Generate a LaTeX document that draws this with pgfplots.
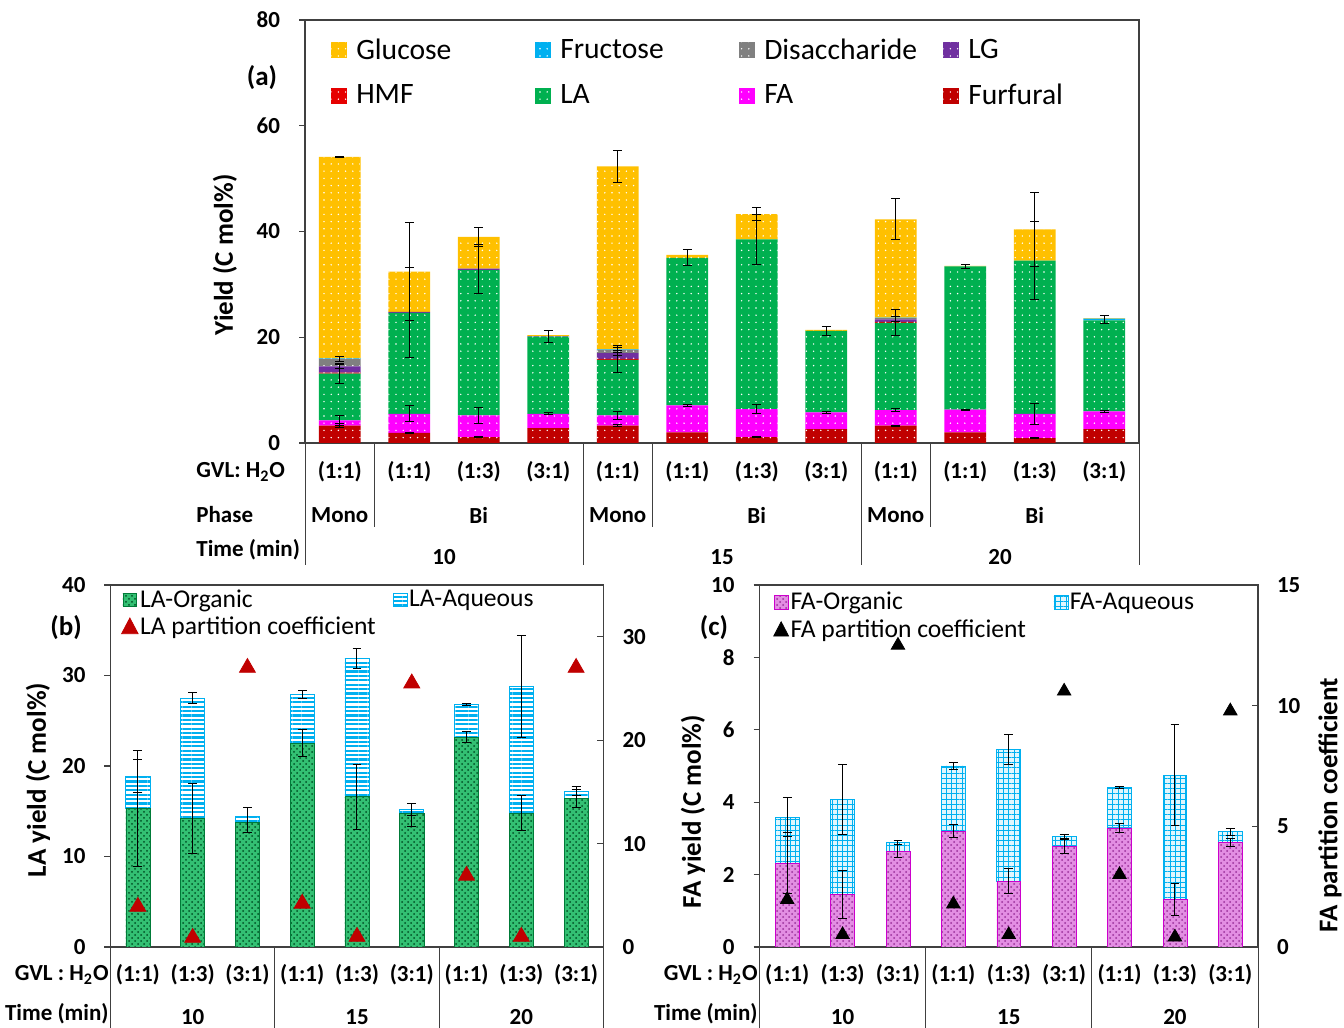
\documentclass[border=0pt]{standalone}
\usepackage{fontspec}
\setmainfont{Carlito}
\usepackage{pgfplots}
\pgfplotsset{compat=1.18}
\usetikzlibrary{patterns,patterns.meta}

\definecolor{cGlu}{HTML}{FFC000}
\definecolor{cFru}{HTML}{00B0F0}
\definecolor{cDis}{HTML}{808080}
\definecolor{cLG}{HTML}{7030A0}
\definecolor{cHMF}{HTML}{E60000}
\definecolor{cLA}{HTML}{00B050}
\definecolor{cFA}{HTML}{FF00FF}
\definecolor{cFur}{HTML}{C00000}
\definecolor{cAq}{HTML}{00B0F0}
\definecolor{cTri}{HTML}{C00000}
\definecolor{cFAo}{HTML}{E38EE3}
\definecolor{cFAd}{HTML}{9A2F9A}
\definecolor{axgray}{HTML}{404040}

\newcommand\tickfont{\fontsize{11.5}{13}\selectfont\bfseries}
\newcommand\labfont{\fontsize{13.5}{16}\selectfont\bfseries}
\newcommand\legAfont{\fontsize{14.8}{17}\selectfont}
\newcommand\legBfont{\fontsize{12.8}{15}\selectfont}

\tikzset{
  dotfill/.style={postaction={pattern={Dots[distance=3.6pt,radius=0.4pt]},pattern color=white}},
}
\pgfplotsset{
  panel/.style={scale only axis, anchor=south west,
    axis line style={axgray, line width=0.6pt},
    tick style={axgray, line width=0.6pt}, major tick length=3pt,
    /pgf/number format/assume math mode=true,
    yticklabel style={font=\tickfont}},
  errs/.style={draw=none, mark=none,
    error bars/.cd, y dir=both, y explicit,
    error bar style={line width=0.5pt, draw=black, solid},
    error mark options={rotate=90, mark size=2.2pt, line width=0.5pt, draw=black}},
}

\begin{document}
\begin{tikzpicture}[x=1pt,y=1pt]
\useasboundingbox (0,0) rectangle (672,514);

% ---------------- (a) product yields, stacked ----------------
\begin{axis}[panel, at={(152.5pt,292.5pt)}, width=417pt, height=211.5pt,
  ybar stacked, bar width=0.6,
  xmin=-0.5, xmax=11.5, ymin=0, ymax=80,
  xtick=\empty, ytick={0,20,40,60,80}, ytick pos=left, tick align=outside,
  yticklabel style={xshift=-6pt},
  legend columns=4, reverse legend,
  legend image code/.code={\fill[#1] (0pt,-4pt) rectangle (8pt,4pt); \path (11.5pt,0pt);},
  legend style={at={(0.031,0.962)}, anchor=north west, draw=none, fill=none,
    font=\legAfont, inner sep=0pt, row sep=9pt,
    nodes={inner sep=1pt}, cells={anchor=west}},
]
\addplot[fill=cFur, draw=none, dotfill] coordinates {(0,3.3) (1,1.9) (2,1.1) (3,2.8) (4,3.3) (5,2.0) (6,1.1) (7,2.6) (8,3.3) (9,2.0) (10,0.9) (11,2.6)};
\addlegendentry{Furfural}
\addplot[fill=cFA, draw=none, dotfill] coordinates {(0,1.0) (1,3.6) (2,4.1) (3,2.7) (4,1.9) (5,5.1) (6,5.3) (7,3.2) (8,2.9) (9,4.3) (10,4.6) (11,3.4)};
\addlegendentry{\makebox[88.5pt][l]{FA}}
\addplot[fill=cLA, draw=none, dotfill] coordinates {(0,8.8) (1,19.1) (2,27.5) (3,14.6) (4,10.5) (5,27.9) (6,32.1) (7,15.4) (8,16.5) (9,27.1) (10,29.0) (11,17.2)};
\addlegendentry{\makebox[88.5pt][l]{LA}}
\addplot[fill=cHMF, draw=none, dotfill] coordinates {(0,0.2) (1,0) (2,0) (3,0) (4,0.2) (5,0) (6,0) (7,0) (8,0.2) (9,0) (10,0) (11,0)};
\addlegendentry{\makebox[88.5pt][l]{HMF}}
\addplot[fill=cLG, draw=none, dotfill] coordinates {(0,1.2) (1,0.2) (2,0.3) (3,0.1) (4,1.1) (5,0) (6,0) (7,0) (8,0.5) (9,0) (10,0) (11,0)};
\addlegendentry{LG}
\addplot[fill=cDis, draw=none, dotfill] coordinates {(0,1.4) (1,0) (2,0) (3,0) (4,0.6) (5,0) (6,0) (7,0) (8,0.2) (9,0) (10,0) (11,0)};
\addlegendentry{\makebox[88.5pt][l]{Disaccharide}}
\addplot[fill=cFru, draw=none, dotfill] coordinates {(0,0.1) (1,0) (2,0) (3,0) (4,0.1) (5,0) (6,0) (7,0) (8,0.1) (9,0) (10,0) (11,0.3)};
\addlegendentry{\makebox[88.5pt][l]{Fructose}}
\addplot[fill=cGlu, draw=none, dotfill] coordinates {(0,38.1) (1,7.6) (2,6.0) (3,0.2) (4,34.6) (5,0.6) (6,4.8) (7,0.2) (8,18.6) (9,0.1) (10,5.9) (11,0.1)};
\addlegendentry{\makebox[88.5pt][l]{Glucose}}
\end{axis}
\begin{axis}[panel, at={(152.5pt,292.5pt)}, width=417pt, height=211.5pt,
  xmin=-0.5, xmax=11.5, ymin=0, ymax=80, hide axis, clip=false]
\addplot[errs] coordinates {
 (0,54.1) +- (0,0.15) (0,15.9) +- (0,0.4) (0,14.5) +- (0,0.5) (0,13.1) +- (0,1.8) (0,4.3) +- (0,0.9) (0,3.3) +- (0,0.3)
 (1,32.4) +- (0,9.3) (1,24.6) +- (0,8.5) (1,5.5) +- (0,1.5) (1,1.9) +- (0,0.1)
 (2,39.0) +- (0,1.8) (2,32.9) +- (0,4.7) (2,5.2) +- (0,1.6) (2,1.1) +- (0,0.1)
 (3,20.1) +- (0,1.1) (3,5.5) +- (0,0.2)
 (4,52.3) +- (0,3.0) (4,17.6) +- (0,0.5) (4,17.0) +- (0,0.5) (4,15.9) +- (0,2.6) (4,5.2) +- (0,0.7) (4,3.3) +- (0,0.2)
 (5,35.0) +- (0,1.5) (5,7.1) +- (0,0.2)
 (6,43.3) +- (0,1.3) (6,38.5) +- (0,4.8) (6,6.4) +- (0,0.8) (6,1.1) +- (0,0.1)
 (7,21.2) +- (0,0.9) (7,5.8) +- (0,0.2)
 (8,42.3) +- (0,3.9) (8,23.4) +- (0,0.5) (8,22.8) +- (0,2.4) (8,6.2) +- (0,0.3) (8,3.3) +- (0,0.1)
 (9,33.4) +- (0,0.4) (9,6.3) +- (0,0.1)
 (10,40.4) +- (0,7.0) (10,34.5) +- (0,7.3) (10,5.5) +- (0,2.0) (10,0.9) +- (0,0.1)
 (11,23.4) +- (0,0.8) (11,6.0) +- (0,0.2)};
\end{axis}

% ---------------- (b) LA by phase ----------------
\begin{axis}[panel, at={(55.25pt,40.5pt)}, width=246.5pt, height=181pt,
  ybar stacked, bar width=0.44,
  xmin=-0.5, xmax=8.5, ymin=0, ymax=40,
  xtick=\empty, ytick={0,10,20,30,40}, ytick pos=left, tick align=outside,
  yticklabel style={xshift=-6pt},
  legend columns=2,
  legend image code/.code={\fill[#1] (0pt,-3.3pt) rectangle (6.6pt,3.3pt);},
  legend style={at={(0.021,0.992)}, anchor=north west, draw=none, fill=none,
    font=\legBfont, inner sep=0pt, row sep=1.6pt,
    nodes={inner sep=0.8pt}, cells={anchor=west},
    /tikz/every even column/.append style={column sep=8pt}},
]
\addplot[fill=cLA!80!white, draw=cLA!70!black, line width=0.3pt,
  postaction={pattern=crosshatch dots, pattern color=cLA!45!black}]
  coordinates {(0,15.3) (1,14.2) (2,13.8) (3,22.5) (4,16.6) (5,14.8) (6,23.2) (7,14.8) (8,16.4)};
\addlegendentry{LA-Organic}
\addplot[fill=white, draw=cAq, line width=0.4pt,
  postaction={pattern={Lines[angle=0,distance=2.2pt,line width=1.1pt]}, pattern color=cAq}]
  coordinates {(0,3.6) (1,13.3) (2,0.6) (3,5.4) (4,15.3) (5,0.4) (6,3.6) (7,14.0) (8,0.8)};
\addlegendentry{LA-Aqueous}
\addlegendimage{legend image code/.code={\fill[cTri] (3.5pt,4.6pt) -- (-0.6pt,-3.2pt) -- (7.6pt,-3.2pt) -- cycle;}}
\addlegendentry{LA partition coefficient}
\end{axis}
\begin{axis}[panel, at={(55.25pt,40.5pt)}, width=246.5pt, height=181pt,
  xmin=-0.5, xmax=8.5, ymin=0, ymax=40, hide axis, clip=false]
\addplot[errs] coordinates {
 (0,18.9) +- (0,1.8) (0,15.3) +- (0,6.4)
 (1,27.5) +- (0,0.6) (1,14.2) +- (0,3.9)
 (2,14.0) +- (0,1.4)
 (3,27.9) +- (0,0.4) (3,22.5) +- (0,1.5)
 (4,31.9) +- (0,1.1) (4,16.6) +- (0,3.6)
 (5,15.2) +- (0,0.7) (5,14.6) +- (0,1.3)
 (6,26.8) +- (0,0.1) (6,23.2) +- (0,0.6)
 (7,28.8) +- (0,5.6) (7,14.8) +- (0,1.9)
 (8,17.2) +- (0,0.5) (8,16.4) +- (0,1.0)};
\end{axis}
\begin{axis}[panel, at={(55.25pt,40.5pt)}, width=246.5pt, height=181pt,
  xmin=-0.5, xmax=8.5, ymin=0, ymax=35,
  axis x line=none, axis y line*=right, ytick={0,10,20,30}, tick align=inside,
  yticklabel style={xshift=6pt}, clip=false]
\addplot[only marks, mark=triangle*, mark size=4.6pt, color=cTri]
  coordinates {(0,3.9) (1,0.9) (2,27.0) (3,4.2) (4,1.0) (5,25.5) (6,6.9) (7,1.0) (8,27.0)};
\end{axis}

% ---------------- (c) FA by phase ----------------
\begin{axis}[panel, at={(379.75pt,40.5pt)}, width=249.25pt, height=181pt,
  ybar stacked, bar width=0.43,
  xmin=-0.5, xmax=8.5, ymin=0, ymax=10,
  xtick=\empty, ytick={0,2,4,6,8,10}, ytick pos=left, tick align=outside,
  yticklabel style={xshift=-6pt},
  legend columns=2,
  legend image code/.code={\fill[#1] (0pt,-3.5pt) rectangle (7pt,3.5pt);},
  legend style={at={(0.027,0.986)}, anchor=north west, draw=none, fill=none,
    font=\legBfont, inner sep=0pt, row sep=2pt,
    nodes={inner sep=0.8pt}, cells={anchor=west},
    /tikz/every even column/.append style={column sep=13pt}},
]
\addplot[fill=cFAo, draw=cFA!80!black, line width=0.3pt,
  postaction={pattern=crosshatch dots, pattern color=cFAd}]
  coordinates {(0,2.32) (1,1.45) (2,2.65) (3,3.20) (4,1.82) (5,2.78) (6,3.29) (7,1.31) (8,2.89)};
\addlegendentry{FA-Organic}
\addplot[fill=cAq!12!white, draw=cAq, line width=0.4pt,
  postaction={pattern={Hatch[angle=0,distance=2.6pt,line width=0.5pt]}, pattern color=cAq}]
  coordinates {(0,1.27) (1,2.62) (2,0.23) (3,1.80) (4,3.64) (5,0.28) (6,1.11) (7,3.44) (8,0.29)};
\addlegendentry{FA-Aqueous}
\addlegendimage{legend image code/.code={\fill[black] (3.5pt,4.2pt) -- (-0.2pt,-2.9pt) -- (7.2pt,-2.9pt) -- cycle;}}
\addlegendentry{FA partition coefficient}
\end{axis}
\begin{axis}[panel, at={(379.75pt,40.5pt)}, width=249.25pt, height=181pt,
  xmin=-0.5, xmax=8.5, ymin=0, ymax=10, hide axis, clip=false]
\addplot[errs] coordinates {
 (0,3.59) +- (0,0.55) (0,2.32) +- (0,0.85)
 (1,4.07) +- (0,0.97) (1,1.45) +- (0,0.65)
 (2,2.88) +- (0,0.05) (2,2.65) +- (0,0.17)
 (3,5.00) +- (0,0.10) (3,3.20) +- (0,0.18)
 (4,5.46) +- (0,0.42) (4,1.82) +- (0,0.35)
 (5,3.06) +- (0,0.06) (5,2.78) +- (0,0.20)
 (6,4.40) +- (0,0.02) (6,3.29) +- (0,0.13)
 (7,4.75) +- (0,1.39) (7,1.31) +- (0,0.45)
 (8,3.18) +- (0,0.10) (8,2.89) +- (0,0.12)};
\end{axis}
\begin{axis}[panel, at={(379.75pt,40.5pt)}, width=249.25pt, height=181pt,
  xmin=-0.5, xmax=8.5, ymin=0, ymax=15,
  axis x line=none, axis y line*=right, ytick={0,5,10,15}, tick align=inside,
  yticklabel style={xshift=6pt}, clip=false]
\addplot[only marks, mark=triangle*, mark size=3.9pt, color=black]
  coordinates {(0,1.96) (1,0.51) (2,12.5) (3,1.78) (4,0.51) (5,10.6) (6,3.0) (7,0.41) (8,9.78)};
\end{axis}

% ---------------- category tables below the axes ----------------
\begin{scope}[every node/.style={font=\tickfont, inner sep=0pt}]
% (a)
\foreach \i/\t in {0/(1:1),1/(1:1),2/(1:3),3/(3:1),4/(1:1),5/(1:1),6/(1:3),7/(3:1),8/(1:1),9/(1:1),10/(1:3),11/(3:1)}
  \node at ({152.5+34.75*(\i+0.5)},278) {\t};
\foreach \i/\t in {0/Mono,2/Bi,4/Mono,6/Bi,8/Mono,10/Bi}
  \node at ({152.5+34.75*(\i+0.5)},256.5) {\t};
\foreach \i/\t in {1.5/10,5.5/15,9.5/20}
  \node at ({152.5+34.75*(\i+0.5)},235.5) {\t};
\node[anchor=west] at (98,278) {GVL: H\textsubscript{2}O};
\node[anchor=west] at (98,256.5) {Phase};
\node[anchor=west] at (98,239) {Time (min)};
\foreach \x in {152.5,291.5,430.5,569.5} \draw[axgray, line width=0.5pt] (\x,292.5) -- (\x,231.5);
\foreach \x in {187.25,326.25,465.25} \draw[axgray, line width=0.5pt] (\x,292.5) -- (\x,250.5);
% (b)
\foreach \i/\t in {0/(1:1),1/(1:3),2/(3:1),3/(1:1),4/(1:3),5/(3:1),6/(1:1),7/(1:3),8/(3:1)}
  \node at ({55.25+27.39*(\i+0.5)},26.5) {\t};
\foreach \i/\t in {1/10,4/15,7/20}
  \node at ({55.25+27.39*(\i+0.5)},5.5) {\t};
\node[anchor=east] at (54.5,26.5) {GVL : H\textsubscript{2}O};
\node[anchor=east] at (54.5,7) {Time (min)};
\foreach \x in {55.25,137.42,219.58,301.75} \draw[axgray, line width=0.5pt] (\x,40.5) -- (\x,0);
% (c)
\foreach \i/\t in {0/(1:1),1/(1:3),2/(3:1),3/(1:1),4/(1:3),5/(3:1),6/(1:1),7/(1:3),8/(3:1)}
  \node at ({379.75+27.694*(\i+0.5)},26.5) {\t};
\foreach \i/\t in {1/10,4/15,7/20}
  \node at ({379.75+27.694*(\i+0.5)},5.5) {\t};
\node[anchor=east] at (379,26.5) {GVL : H\textsubscript{2}O};
\node[anchor=east] at (379,7) {Time (min)};
\foreach \x in {379.75,462.83,545.92,629} \draw[axgray, line width=0.5pt] (\x,40.5) -- (\x,0);
\end{scope}

% ---------------- axis titles and panel letters ----------------
\node[font=\labfont, rotate=90] at (112.5,386.5) {Yield (C mol\%)};
\node[font=\labfont, rotate=90] at (19,124) {LA yield (C mol\%)};
\node[font=\labfont, rotate=90] at (346.5,108) {FA yield (C mol\%)};
\node[font=\labfont, rotate=90] at (665,111.5) {FA partition coefficient};
\node[font=\labfont] at (131,475) {(a)};
\node[font=\labfont] at (33,200) {(b)};
\node[font=\labfont] at (357,200) {(c)};
\end{tikzpicture}
\end{document}
